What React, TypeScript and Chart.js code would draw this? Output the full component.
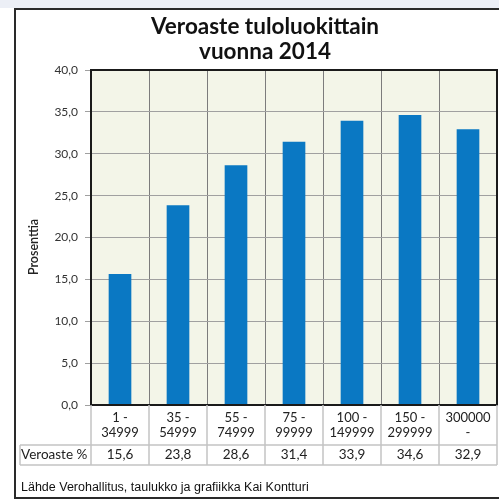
import React, { useEffect, useRef } from "react";
import { Chart, registerables } from "chart.js";

Chart.register(...registerables);

const titleLines = ["Veroaste tuloluokittain", "vuonna 2014"];
const categories: string[][] = [
  ["1 -", "34999"],
  ["35 -", "54999"],
  ["55 -", "74999"],
  ["75 -", "99999"],
  ["100 -", "149999"],
  ["150 -", "299999"],
  ["300000", "-"],
];
const values = [15.6, 23.8, 28.6, 31.4, 33.9, 34.6, 32.9];
const rowLabel = "Veroaste %";
const yTitle = "Prosenttia";
const footer = "Lähde Verohallitus, taulukko ja grafiikka Kai Kontturi";
const yMin = 0;
const yMax = 40;
const yStep = 5;

const fmt = (v: number) => v.toFixed(1).replace(".", ",");

const decorPlugin = {
  id: "decor",
  beforeDraw(chart: any) {
    const { ctx, chartArea: a, width, height } = chart;
    ctx.save();
    ctx.fillStyle = "#ffffff";
    ctx.fillRect(0, 0, width, height);
    ctx.fillStyle = "#eceff6";
    ctx.fillRect(0, 0, width, 8);
    ctx.fillStyle = "#f3f5e8";
    ctx.fillRect(a.left, a.top, a.right - a.left, a.bottom - a.top);
    ctx.restore();
  },
  afterDraw(chart: any) {
    const { ctx, chartArea: a } = chart;
    const xs = chart.scales.x;
    ctx.save();
    // outer frame
    ctx.strokeStyle = "#2a2a2a";
    ctx.lineWidth = 2;
    ctx.strokeRect(15, 9, 520, 489);
    // plot border
    ctx.strokeStyle = "#1a1a1a";
    ctx.lineWidth = 2;
    ctx.strokeRect(a.left, a.top, a.right - a.left, a.bottom - a.top);
    // table
    const rowTop = a.bottom + 40;
    const rowBot = rowTop + 20;
    const tableLeft = 20;
    ctx.strokeStyle = "#c4c4c4";
    ctx.lineWidth = 1.5;
    ctx.beginPath();
    const n = categories.length;
    const half = (xs.getPixelForValue(1) - xs.getPixelForValue(0)) / 2;
    for (let i = 0; i <= n; i++) {
      const x = i < n ? xs.getPixelForValue(i) - half : xs.getPixelForValue(n - 1) + half;
      ctx.moveTo(x, a.bottom);
      ctx.lineTo(x, rowBot);
    }
    ctx.moveTo(tableLeft, rowTop);
    ctx.lineTo(a.right, rowTop);
    ctx.moveTo(tableLeft, rowBot);
    ctx.lineTo(a.right, rowBot);
    ctx.moveTo(tableLeft, rowTop);
    ctx.lineTo(tableLeft, rowBot);
    ctx.stroke();
    // row texts
    ctx.fillStyle = "#222";
    ctx.font = "13.5px Lato";
    ctx.textBaseline = "middle";
    ctx.textAlign = "left";
    ctx.fillText(rowLabel, 21, (rowTop + rowBot) / 2);
    ctx.textAlign = "center";
    values.forEach((v, i) => {
      ctx.fillText(fmt(v), xs.getPixelForValue(i), (rowTop + rowBot) / 2);
    });
    // title
    ctx.fillStyle = "#111";
    ctx.font = "bold 22.5px Lato";
    ctx.textAlign = "center";
    ctx.fillText(titleLines[0], 265, 27);
    ctx.fillText(titleLines[1], 265, 52);
    // y title
    ctx.save();
    ctx.translate(34, 247);
    ctx.rotate(-Math.PI / 2);
    ctx.font = "600 12.5px Lato";
    ctx.fillStyle = "#222";
    ctx.fillText(yTitle, 0, 0);
    ctx.restore();
    // footer
    ctx.font = "12.5px 'Liberation Sans'";
    ctx.textAlign = "left";
    ctx.fillStyle = "#111";
    ctx.fillText(footer, 21, 488);
    ctx.restore();
  },
};

export default function App() {
  const ref = useRef<HTMLCanvasElement>(null);
  useEffect(() => {
    if (!ref.current) return;
    const chart = new Chart(ref.current, {
      type: "bar",
      data: {
        labels: categories,
        datasets: [
          {
            data: values,
            backgroundColor: "#0a78c3",
            borderWidth: 0,
            barThickness: 22,
          },
        ],
      },
      options: {
        responsive: false,
        animation: false,
        devicePixelRatio: 1,
        layout: { padding: { left: 0, right: 2, top: 70, bottom: 0 } },
        plugins: { legend: { display: false }, tooltip: { enabled: false }, title: { display: false } },
        scales: {
          x: {
            afterFit: (s: any) => {
              s.height = 95;
            },
            grid: { color: "#7c7c7c", lineWidth: 1, drawTicks: false, offset: true },
            border: { display: false },
            ticks: {
              color: "#222",
              font: { family: "Lato", size: 13, lineHeight: 1.15 },
              padding: 5,
              maxRotation: 0,
              autoSkip: false,
            },
          },
          y: {
            min: yMin,
            max: yMax,
            afterFit: (s: any) => {
              s.width = 91;
            },
            grid: { color: "#a0a0a0", lineWidth: 1, tickLength: 6 },
            border: { display: false },
            ticks: {
              stepSize: yStep,
              color: "#333",
              padding: 7,
              font: { family: "Lato", size: 12 },
              callback: (v: any) => fmt(Number(v)),
            },
          },
        },
      },
      plugins: [decorPlugin],
    });
    return () => chart.destroy();
  }, []);
  return (
    <div style={{ position: "absolute", left: 0, top: 0, width: 499, height: 500 }}>
      <canvas ref={ref} width={499} height={500} style={{ display: "block" }} />
    </div>
  );
}
